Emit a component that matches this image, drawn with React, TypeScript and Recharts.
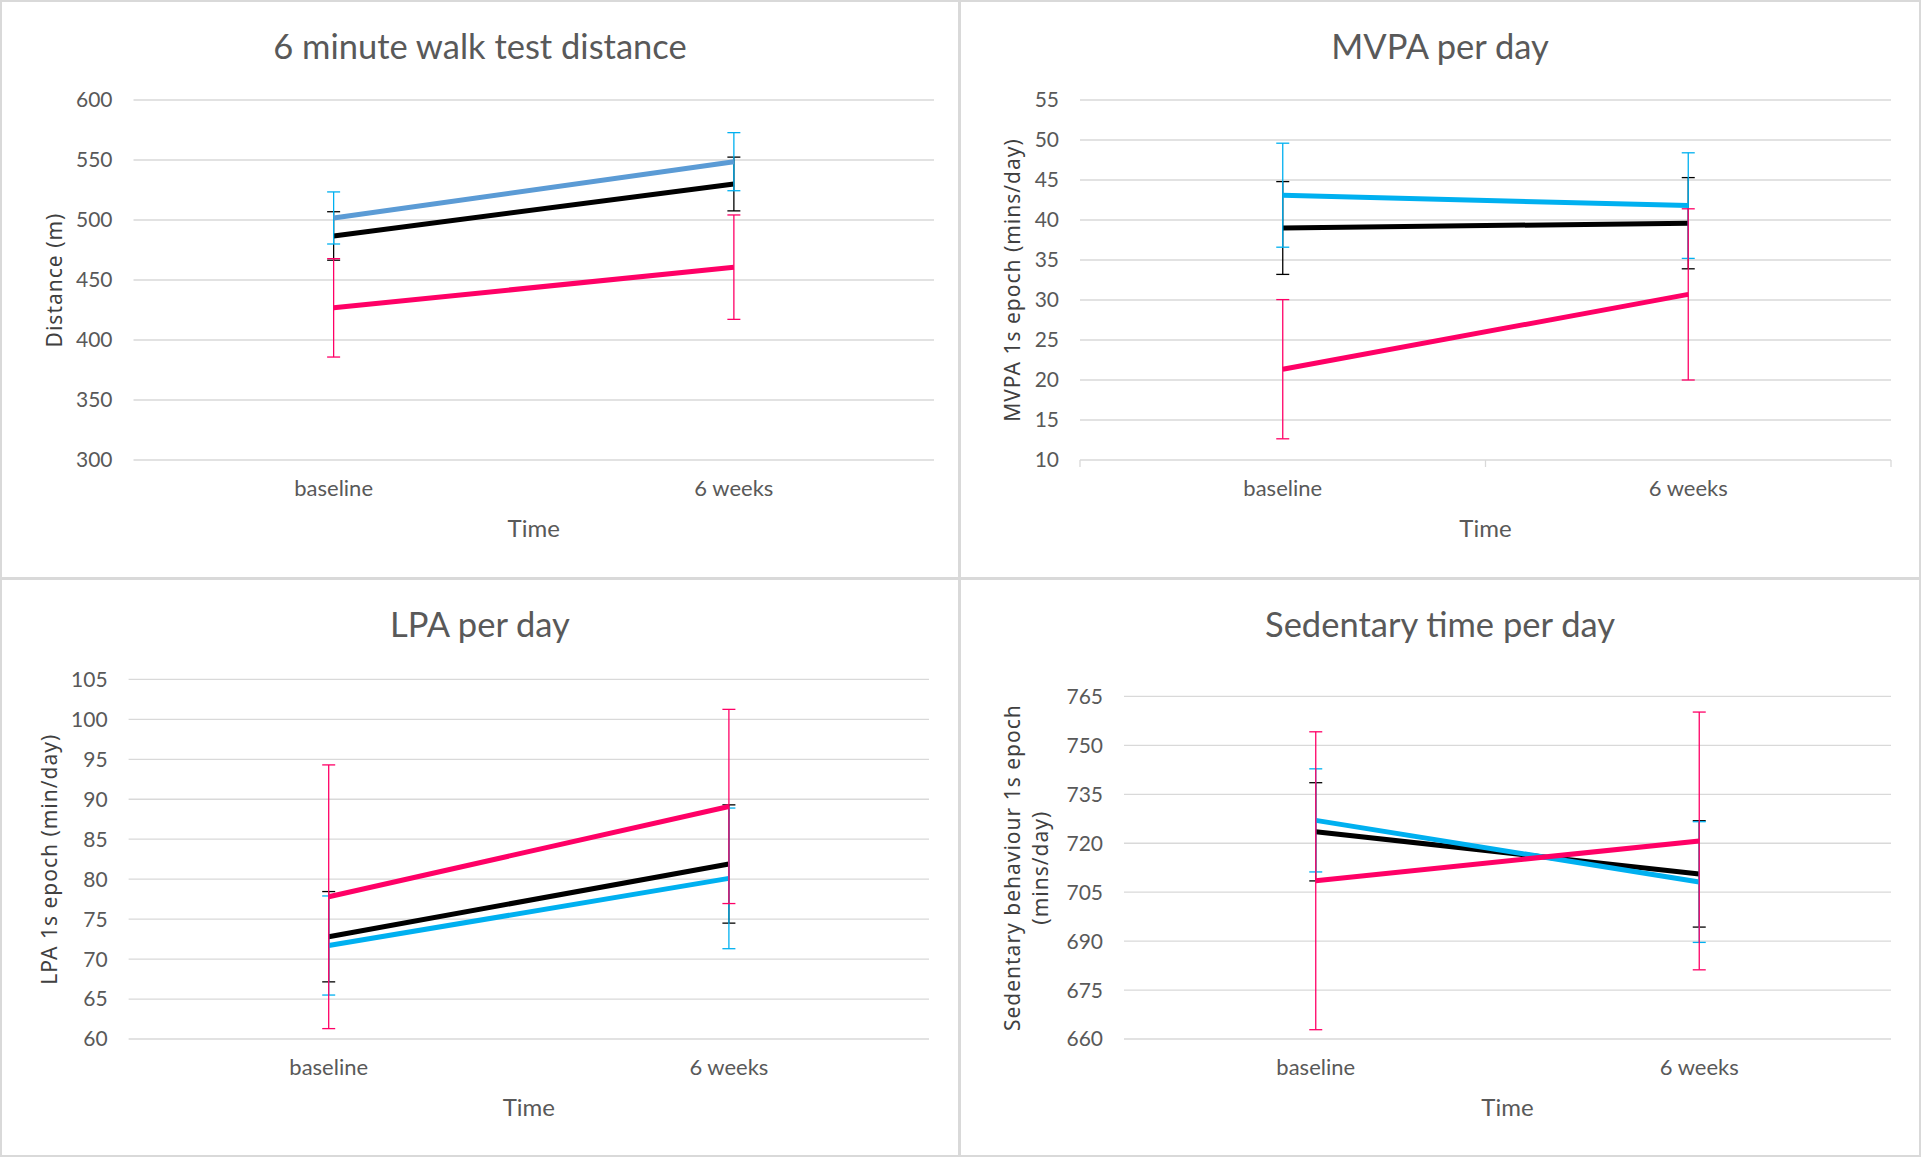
import React from "react";
import { LineChart, Line, XAxis, YAxis, CartesianGrid, ErrorBar } from "recharts";

const timepoints = ["baseline", "6 weeks"];

// 6 minute walk test distance (m): mean and SD
const walkTotal = [486.7, 530.0];
const walkTotalSd = [20.2, 22.4];
const walkGroupA = [501.7, 548.6];
const walkGroupASd = [21.7, 24.2];
const walkGroupB = [426.8, 460.7];
const walkGroupBSd = [41.0, 43.5];
const walkTicks = [300, 350, 400, 450, 500, 550, 600];

// MVPA 1s epoch (mins/day)
const mvpaTotal = [39.0, 39.6];
const mvpaTotalSd = [5.8, 5.7];
const mvpaGroupA = [43.1, 41.8];
const mvpaGroupASd = [6.5, 6.6];
const mvpaGroupB = [21.35, 30.7];
const mvpaGroupBSd = [8.7, 10.7];
const mvpaTicks = [10, 15, 20, 25, 30, 35, 40, 45, 50, 55];

// LPA 1s epoch (min/day)
const lpaTotal = [72.8, 81.9];
const lpaTotalSd = [5.65, 7.4];
const lpaGroupA = [71.7, 80.1];
const lpaGroupASd = [6.2, 8.8];
const lpaGroupB = [77.8, 89.1];
const lpaGroupBSd = [16.5, 12.15];
const lpaTicks = [60, 65, 70, 75, 80, 85, 90, 95, 100, 105];

// Sedentary behaviour 1s epoch (mins/day)
const sedTotal = [723.5, 710.6];
const sedTotalSd = [15.05, 16.3];
const sedGroupA = [727.0, 708.1];
const sedGroupASd = [15.8, 18.5];
const sedGroupB = [708.5, 720.7];
const sedGroupBSd = [45.65, 39.5];
const sedTicks = [660, 675, 690, 705, 720, 735, 750, 765];

const GRID = "#d9d9d9";
const TEXT = "#595959";
const LABEL = "#404040";
const BLACK = "#000000";
const CYAN = "#00b0f0";
const PINK = "#ff0066";
const STEEL = "#5b9bd5";
const FONT = "Lato, 'Open Sans', sans-serif";
const LABEL_FONT = "'Noto Sans', 'DejaVu Sans', sans-serif";
const H = 580;
const TITLE_SIZE = 34.5;

type Series = { key: string; mean: number[]; sd: number[]; color: string; errColor: string };

const buildRows = (series: Series[]) =>
  timepoints.map((t, i) => {
    const row: Record<string, any> = { x: i + 0.5, time: t };
    series.forEach((s) => {
      row[s.key] = s.mean[i];
      row[s.key + "Err"] = s.sd[i];
    });
    return row;
  });

const CategoryTick = ({ x, y, payload, frame }: any) => {
  const v = payload.value;
  if (Number.isInteger(v)) {
    return frame ? <line x1={x} x2={x} y1={y} y2={y + 7} stroke={GRID} strokeWidth={1.3} /> : <g />;
  }
  return (
    <text x={x} y={y + 36} textAnchor="middle" fill={TEXT} fontSize={22} fontFamily={FONT}>
      {timepoints[Math.floor(v)]}
    </text>
  );
};

const rotatedTitle = (lines: string[], dx: number) => (props: any) => {
  const vb = props.viewBox || { x: 0, y: 0, width: 0, height: 0 };
  const cx = vb.x + dx;
  const cy = vb.y + vb.height / 2;
  const lh = 28;
  return (
    <text
      transform={`rotate(-90 ${cx} ${cy})`}
      x={cx}
      y={cy}
      textAnchor="middle"
      fill={LABEL}
      fontSize={21}
      fontFamily={LABEL_FONT}
      letterSpacing={1}
    >
      {lines.map((line, i) => (
        <tspan key={line} x={cx} y={cy + (i - (lines.length - 1) / 2) * lh} dy="0.36em">
          {line}
        </tspan>
      ))}
    </text>
  );
};

const timeTitle = (props: any) => {
  const vb = props.viewBox || { x: 0, y: 0, width: 0, height: 0 };
  return (
    <text x={vb.x + vb.width / 2} y={vb.y + 77} textAnchor="middle" fill={TEXT} fontSize={24} fontFamily={FONT}>
      Time
    </text>
  );
};

interface PanelProps {
  left: number;
  top: number;
  width: number;
  title: string;
  titleBaseline: number;
  yLabel: string[];
  labelX: number;
  plotLeft: number;
  plotRight: number;
  plotTop: number;
  plotBottom: number;
  domain: [number, number];
  ticks: number[];
  series: Series[];
  frame?: boolean;
}

const Panel: React.FC<PanelProps> = (p) => {
  const rows = buildRows(p.series);
  const marginLeft = 10;
  return (
    <>
      <div
        style={{
          position: "absolute",
          left: p.left,
          top: p.top,
          width: p.width,
          height: H,
          border: `2px solid ${GRID}`,
          boxSizing: "border-box",
        }}
      />
      <div
        style={{
          position: "absolute",
          left: p.left,
          top: p.top + p.titleBaseline - 0.887 * TITLE_SIZE,
          width: p.width,
          textAlign: "center",
          fontFamily: FONT,
          fontSize: TITLE_SIZE,
          lineHeight: `${TITLE_SIZE}px`,
          color: TEXT,
          whiteSpace: "nowrap",
        }}
      >
        {p.title}
      </div>
      <div style={{ position: "absolute", left: p.left, top: p.top }}>
        <LineChart
          width={p.width}
          height={H}
          data={rows}
          margin={{ top: p.plotTop, right: p.width - p.plotRight, bottom: 0, left: marginLeft }}
        >
          <CartesianGrid vertical={false} stroke={GRID} strokeWidth={1.3} />
          <XAxis
            type="number"
            dataKey="x"
            domain={[0, 2]}
            ticks={p.frame ? [0, 0.5, 1, 1.5, 2] : [0.5, 1.5]}
            interval={0}
            axisLine={false}
            tickLine={false}
            tickSize={0}
            tickMargin={0}
            height={H - p.plotBottom}
            tick={(props: any) => <CategoryTick {...props} frame={p.frame} />}
            label={timeTitle}
          />
          <YAxis
            type="number"
            domain={p.domain}
            ticks={p.ticks}
            interval={0}
            width={p.plotLeft - marginLeft}
            axisLine={false}
            tickLine={false}
            tickSize={0}
            tickMargin={21}
            tick={{ fill: TEXT, fontSize: 21, fontFamily: FONT }}
            label={rotatedTitle(p.yLabel, p.labelX - marginLeft)}
          />
          {p.series.map((s) => (
            <Line
              key={s.key}
              type="linear"
              dataKey={s.key}
              stroke={s.color}
              strokeWidth={5}
              dot={false}
              activeDot={false}
              isAnimationActive={false}
            >
              <ErrorBar
                dataKey={s.key + "Err"}
                direction="y"
                width={6.5}
                strokeWidth={1.3}
                stroke={s.errColor}
                isAnimationActive={false}
              />
            </Line>
          ))}
        </LineChart>
      </div>
    </>
  );
};

const walkSeries: Series[] = [
  { key: "total", mean: walkTotal, sd: walkTotalSd, color: BLACK, errColor: BLACK },
  { key: "groupA", mean: walkGroupA, sd: walkGroupASd, color: STEEL, errColor: CYAN },
  { key: "groupB", mean: walkGroupB, sd: walkGroupBSd, color: PINK, errColor: PINK },
];
const mvpaSeries: Series[] = [
  { key: "total", mean: mvpaTotal, sd: mvpaTotalSd, color: BLACK, errColor: BLACK },
  { key: "groupA", mean: mvpaGroupA, sd: mvpaGroupASd, color: CYAN, errColor: CYAN },
  { key: "groupB", mean: mvpaGroupB, sd: mvpaGroupBSd, color: PINK, errColor: PINK },
];
const lpaSeries: Series[] = [
  { key: "total", mean: lpaTotal, sd: lpaTotalSd, color: BLACK, errColor: BLACK },
  { key: "groupA", mean: lpaGroupA, sd: lpaGroupASd, color: CYAN, errColor: CYAN },
  { key: "groupB", mean: lpaGroupB, sd: lpaGroupBSd, color: PINK, errColor: PINK },
];
const sedSeries: Series[] = [
  { key: "total", mean: sedTotal, sd: sedTotalSd, color: BLACK, errColor: BLACK },
  { key: "groupA", mean: sedGroupA, sd: sedGroupASd, color: CYAN, errColor: CYAN },
  { key: "groupB", mean: sedGroupB, sd: sedGroupBSd, color: PINK, errColor: PINK },
];

export default function App() {
  return (
    <div
      style={{
        position: "absolute",
        left: 0,
        top: 0,
        width: 1921,
        height: 1157,
        background: "#ffffff",
        overflow: "hidden",
      }}
    >
      <Panel
        left={0}
        top={0}
        width={960}
        title="6 minute walk test distance"
        titleBaseline={59.5}
        yLabel={["Distance (m)"]}
        labelX={54}
        plotLeft={133.5}
        plotRight={934}
        plotTop={100}
        plotBottom={460}
        domain={[300, 600]}
        ticks={walkTicks}
        series={walkSeries}
      />
      <Panel
        left={959}
        top={0}
        width={962}
        title="MVPA per day"
        titleBaseline={59.5}
        yLabel={["MVPA 1s epoch (mins/day)"]}
        labelX={53}
        plotLeft={121}
        plotRight={932}
        plotTop={100}
        plotBottom={460}
        domain={[10, 55]}
        ticks={mvpaTicks}
        series={mvpaSeries}
        frame
      />
      <Panel
        left={0}
        top={577}
        width={960}
        title="LPA per day"
        titleBaseline={60.5}
        yLabel={["LPA 1s epoch (min/day)"]}
        labelX={49}
        plotLeft={128.6}
        plotRight={929}
        plotTop={102.4}
        plotBottom={462}
        domain={[60, 105]}
        ticks={lpaTicks}
        series={lpaSeries}
      />
      <Panel
        left={959}
        top={577}
        width={962}
        title="Sedentary time per day"
        titleBaseline={60.5}
        yLabel={["Sedentary behaviour 1s epoch", "(mins/day)"]}
        labelX={67}
        plotLeft={165}
        plotRight={932}
        plotTop={119.4}
        plotBottom={462}
        domain={[660, 765]}
        ticks={sedTicks}
        series={sedSeries}
      />
    </div>
  );
}
